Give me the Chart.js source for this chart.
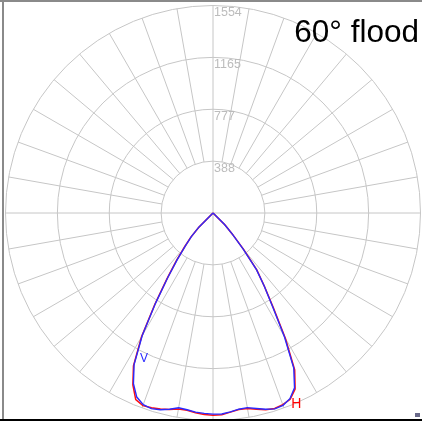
<!DOCTYPE html>
<html>
<head>
<meta charset="utf-8">
<script src="https://cdn.jsdelivr.net/npm/chart.js@4/dist/chart.umd.min.js"></script>
<style>
  html, body { margin: 0; padding: 0; background: #fff; }
  #wrap { position: relative; width: 422px; height: 421px; }
</style>
</head>
<body>
<div id="wrap"><canvas id="chart"></canvas></div>
<script>
// gamma in degrees from nadir, negative = left half
const angles = [-90, -45, -42.5, -40, -37.5, -35, -32.5, -30, -27.5, -25, -22.5, -20, -17.5, -15, -12.5, -10, -7.5, -5, -2.5,
  0, 2.5, 5, 7.5, 10, 12.5, 15, 17.5, 20, 22.5, 25, 27.5, 30, 32.5, 35, 37.5, 40, 42.5, 45, 90];
const vValues = [0, 150, 240, 320, 440, 590, 800, 1060, 1280, 1410, 1492, 1527, 1536, 1525, 1505, 1481, 1486, 1497, 1502,
  1506, 1507, 1495, 1482, 1480, 1500, 1522, 1538, 1533, 1505, 1445, 1310, 1070, 830, 670, 535, 350, 210, 120, 0];
const hValues = [0, 150, 245, 330, 450, 600, 810, 1070, 1290, 1420, 1512, 1535, 1530, 1520, 1508, 1490, 1490, 1502, 1510,
  1515, 1512, 1497, 1485, 1486, 1505, 1525, 1535, 1528, 1510, 1455, 1325, 1085, 840, 672, 540, 360, 215, 130, 0];

const ringValues = [388.5, 777, 1165.5, 1554];
const ringLabels = ["388", "777", "1165", "1554"];
const spokeStep = 10;
const title = "60° flood";

const W = 422, H = 421;
const cx = 213, cy = 213, outerPx = 207.5;
const maxVal = ringValues[ringValues.length - 1];
const u = maxVal / outerPx;

function toXY(vals) {
  return angles.map((a, i) => {
    const t = a * Math.PI / 180;
    return { x: vals[i] * Math.sin(t), y: -vals[i] * Math.cos(t) };
  });
}

const gridPlugin = {
  id: "polarGrid",
  beforeDatasetsDraw(chart) {
    const { ctx, scales: { x, y } } = chart;
    const ox = x.getPixelForValue(0), oy = y.getPixelForValue(0);
    const rpx = v => x.getPixelForValue(v) - ox;
    ctx.save();
    ctx.strokeStyle = "#c6c6c6";
    ctx.lineWidth = 1;
    ringValues.forEach(v => {
      ctx.beginPath();
      ctx.arc(ox, oy, rpx(v), 0, Math.PI * 2);
      ctx.stroke();
    });
    const r0 = rpx(ringValues[0]), r1 = rpx(maxVal);
    for (let a = 0; a < 360; a += spokeStep) {
      const t = a * Math.PI / 180;
      const from = a % 90 === 0 ? 0 : r0;
      ctx.beginPath();
      ctx.moveTo(ox + from * Math.cos(t), oy + from * Math.sin(t));
      ctx.lineTo(ox + r1 * Math.cos(t), oy + r1 * Math.sin(t));
      ctx.stroke();
    }
    ctx.fillStyle = "#bcbcbc";
    ctx.font = "12.5px 'Liberation Sans', Arial, sans-serif";
    ctx.textAlign = "left";
    ctx.textBaseline = "top";
    ringValues.forEach((v, i) => {
      ctx.fillText(ringLabels[i], ox + 1, oy - rpx(v) + 1);
    });
    ctx.restore();
  },
  afterDraw(chart) {
    const { ctx, scales: { x, y } } = chart;
    ctx.save();
    // curve labels, anchored to data points
    const vi = angles.indexOf(-27.5), hi = angles.indexOf(22.5);
    const vp = toXY(vValues)[vi], hp = toXY(hValues)[hi];
    ctx.font = "12px 'Liberation Sans', Arial, sans-serif";
    ctx.textBaseline = "top";
    ctx.fillStyle = "#2a2aff";
    ctx.fillText("V", x.getPixelForValue(vp.x) + 6, y.getPixelForValue(vp.y) - 12);
    ctx.font = "14px 'Liberation Sans', Arial, sans-serif";
    ctx.fillStyle = "#ff0000";
    ctx.fillText("H", x.getPixelForValue(hp.x) + 1, y.getPixelForValue(hp.y) - 2);
    // title
    ctx.fillStyle = "#000";
    ctx.font = "31.5px 'Liberation Sans', Arial, sans-serif";
    ctx.textAlign = "right";
    ctx.textBaseline = "alphabetic";
    ctx.fillText(title, 419, 42);
    // frame
    ctx.fillStyle = "#8a8a8a";
    ctx.fillRect(0, 0, W, 2);
    ctx.fillRect(2, 0, 2, H);
    ctx.fillStyle = "#000";
    ctx.fillRect(0, H - 2, W, 2);
    ctx.fillStyle = "#6a6a8a";
    ctx.fillRect(415, 413, 5, 4);
    ctx.restore();
  }
};

new Chart(document.getElementById("chart"), {
  type: "scatter",
  data: {
    datasets: [
      { label: "V", data: toXY(vValues), showLine: true, borderColor: "#2a2aff", borderWidth: 1.4, pointRadius: 0, tension: 0 },
      { label: "H", data: toXY(hValues), showLine: true, borderColor: "#ff1010", borderWidth: 1.5, pointRadius: 0, tension: 0 }
    ]
  },
  options: {
    responsive: true,
    maintainAspectRatio: false,
    animation: false,
    events: [],
    layout: { padding: 0 },
    plugins: { legend: { display: false }, tooltip: { enabled: false }, title: { display: false } },
    scales: {
      x: { type: "linear", display: false, min: -cx * u, max: (W - cx) * u },
      y: { type: "linear", display: false, min: -(H - cy) * u, max: cy * u }
    }
  },
  plugins: [gridPlugin]
});
</script>
</body>
</html>
